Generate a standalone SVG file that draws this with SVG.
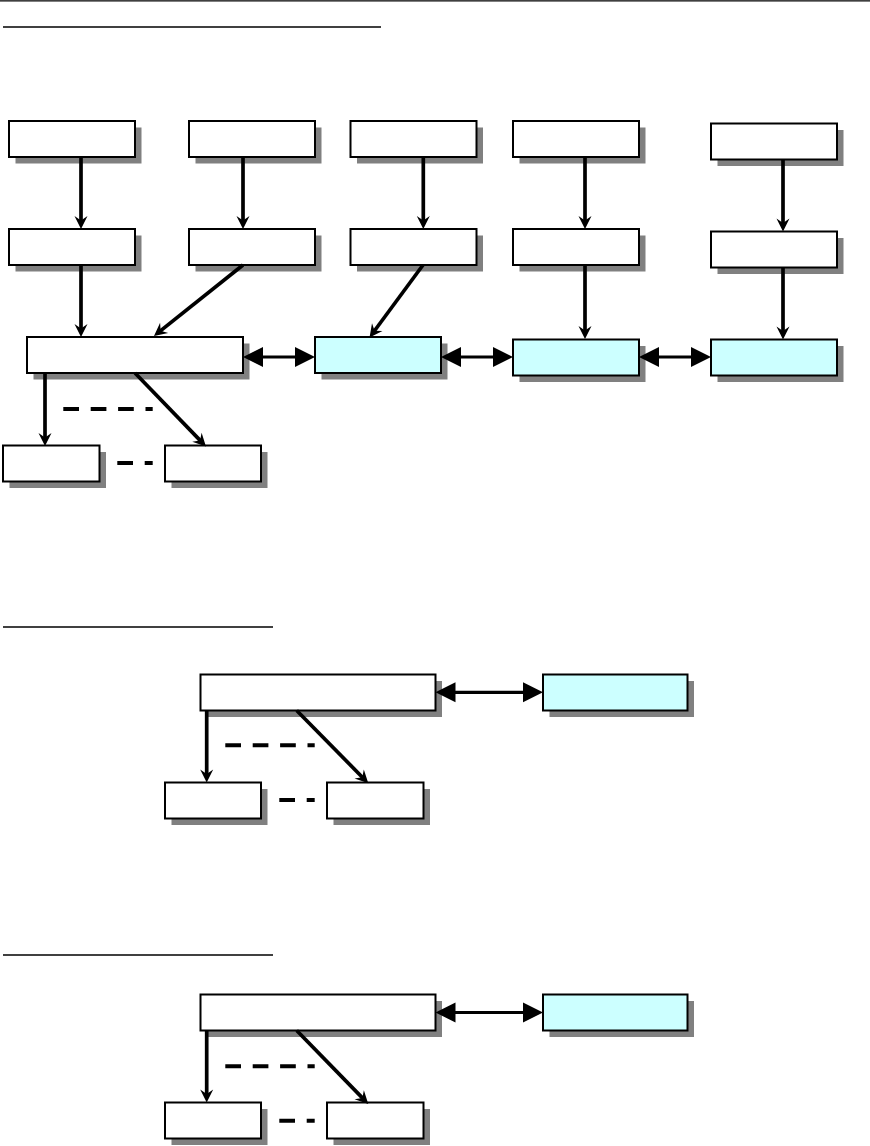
<svg xmlns="http://www.w3.org/2000/svg" width="870" height="1146" viewBox="0 0 870 1146">
<style>
.sh{fill:#808080;stroke:none}
.bx{fill:#fff;stroke:#000;stroke-width:2}
.cy{fill:#ccffff;stroke:#000;stroke-width:2}
.ar{fill:none;stroke:#000;stroke-width:3.7;marker-end:url(#stealth)}
.bi{fill:none;stroke:#000;stroke-width:3.2;marker-start:url(#tri);marker-end:url(#tri)}
.ds{fill:none;stroke:#000;stroke-width:4;stroke-dasharray:15.7 11.7}
.rule{stroke:#000;stroke-width:1.3}
</style>
<defs>
<marker id="stealth" markerUnits="userSpaceOnUse" markerWidth="14" markerHeight="14" refX="8" refY="0" orient="auto" overflow="visible">
<path d="M13,0 L0,-6.5 L4.5,0 L0,6.5 Z" fill="#000"/>
</marker>
<marker id="tri" markerUnits="userSpaceOnUse" markerWidth="20" markerHeight="20" refX="15" refY="0" orient="auto-start-reverse" overflow="visible">
<path d="M20,0 L0,-10 L0,10 Z" fill="#000"/>
</marker>
</defs>
<rect width="870" height="1146" fill="#fff"/>
<g id="rules">
<line class="rule" x1="0" y1="0.8" x2="870" y2="0.8"/>
<line class="rule" x1="3" y1="27" x2="381" y2="27"/>
<line class="rule" x1="3" y1="627" x2="273" y2="627"/>
<line class="rule" x1="3" y1="955" x2="273" y2="955"/>
</g>
<!-- Section 1 -->
<g id="n1a"><rect class="sh" x="15.5" y="127.5" width="126" height="36"/><rect class="bx" x="9" y="121" width="126" height="36"/></g>
<g id="n1b"><rect class="sh" x="195.5" y="127.5" width="126" height="36"/><rect class="bx" x="189" y="121" width="126" height="36"/></g>
<g id="n1c"><rect class="sh" x="357" y="127.5" width="126" height="36"/><rect class="bx" x="350.5" y="121" width="126" height="36"/></g>
<g id="n1d"><rect class="sh" x="519.5" y="127.5" width="126" height="36"/><rect class="bx" x="513" y="121" width="126" height="36"/></g>
<g id="n1e"><rect class="sh" x="717.5" y="130" width="126" height="36"/><rect class="bx" x="711" y="123.5" width="126" height="36"/></g>
<g id="n2a"><rect class="sh" x="15.5" y="235.5" width="126" height="36"/><rect class="bx" x="9" y="229" width="126" height="36"/></g>
<g id="n2b"><rect class="sh" x="195.5" y="235.5" width="126" height="36"/><rect class="bx" x="189" y="229" width="126" height="36"/></g>
<g id="n2c"><rect class="sh" x="357" y="235.5" width="126" height="36"/><rect class="bx" x="350.5" y="229" width="126" height="36"/></g>
<g id="n2d"><rect class="sh" x="519.5" y="235.5" width="126" height="36"/><rect class="bx" x="513" y="229" width="126" height="36"/></g>
<g id="n2e"><rect class="sh" x="717.5" y="238" width="126" height="36"/><rect class="bx" x="711" y="231.5" width="126" height="36"/></g>
<g id="n3main"><rect class="sh" x="33.5" y="343.5" width="216" height="36"/><rect class="bx" x="27" y="337" width="216" height="36"/></g>
<g id="n3c1"><rect class="sh" x="321.5" y="343.5" width="126" height="36"/><rect class="cy" x="315" y="337" width="126" height="36"/></g>
<g id="n3c2"><rect class="sh" x="519.5" y="346" width="126" height="36"/><rect class="cy" x="513" y="339.5" width="126" height="36"/></g>
<g id="n3c3"><rect class="sh" x="717.5" y="346" width="126" height="36"/><rect class="cy" x="711" y="339.5" width="126" height="36"/></g>
<g id="n4a"><rect class="sh" x="9.5" y="452" width="96.5" height="36"/><rect class="bx" x="3" y="445.5" width="96.5" height="36"/></g>
<g id="n4b"><rect class="sh" x="171.5" y="452" width="96" height="36"/><rect class="bx" x="165" y="445.5" width="96" height="36"/></g>
<!-- Section 2 -->
<g id="s2main"><rect class="sh" x="207" y="681" width="235" height="36"/><rect class="bx" x="200.5" y="674.5" width="235" height="36"/></g>
<g id="s2cyan"><rect class="sh" x="549.5" y="681" width="144.5" height="36"/><rect class="cy" x="543" y="674.5" width="144.5" height="36"/></g>
<g id="s2a"><rect class="sh" x="171.5" y="789" width="96" height="36"/><rect class="bx" x="165" y="782.5" width="96" height="36"/></g>
<g id="s2b"><rect class="sh" x="333.5" y="789" width="96.5" height="36"/><rect class="bx" x="327" y="782.5" width="96.5" height="36"/></g>
<!-- Section 3 -->
<g id="s3main"><rect class="sh" x="207" y="1001" width="235" height="36"/><rect class="bx" x="200.5" y="994.5" width="235" height="36"/></g>
<g id="s3cyan"><rect class="sh" x="549.5" y="1001" width="144.5" height="36"/><rect class="cy" x="543" y="994.5" width="144.5" height="36"/></g>
<g id="s3a"><rect class="sh" x="171.5" y="1109" width="96" height="36"/><rect class="bx" x="165" y="1102.5" width="96" height="36"/></g>
<g id="s3b"><rect class="sh" x="333.5" y="1109" width="96.5" height="36"/><rect class="bx" x="327" y="1102.5" width="96.5" height="36"/></g>
<g id="connectors">
<line class="ar" x1="81" y1="157" x2="81" y2="224"/>
<line class="ar" x1="243" y1="157" x2="243" y2="224"/>
<line class="ar" x1="423.3" y1="157" x2="423.3" y2="224"/>
<line class="ar" x1="585" y1="157" x2="585" y2="224"/>
<line class="ar" x1="783" y1="159.5" x2="783" y2="226.5"/>
<line class="ar" x1="81" y1="265" x2="81" y2="332"/>
<line class="ar" x1="243" y1="265" x2="157.9" y2="332.9"/>
<line class="ar" x1="423" y1="265" x2="372.5" y2="333.5"/>
<line class="ar" x1="585" y1="265" x2="585" y2="334"/>
<line class="ar" x1="783" y1="267.5" x2="783" y2="334.5"/>
<line class="bi" x1="248" y1="357" x2="310" y2="357"/>
<line class="bi" x1="446" y1="357" x2="508" y2="357"/>
<line class="bi" x1="644" y1="357" x2="706" y2="357"/>
<line class="ar" x1="45" y1="373" x2="45" y2="441"/>
<line class="ar" x1="135" y1="373" x2="202.5" y2="442.9"/>
<line class="ds" x1="63.3" y1="409" x2="152.7" y2="409"/>
<line class="ds" x1="117.3" y1="463" x2="152.7" y2="463"/>
<line class="bi" x1="440.5" y1="692.3" x2="538" y2="692.3"/>
<line class="ar" x1="206.7" y1="710.5" x2="206.7" y2="777.5"/>
<line class="ar" x1="296.7" y1="710.5" x2="364.8" y2="779.7"/>
<line class="ds" x1="225.3" y1="745.3" x2="314.7" y2="745.3"/>
<line class="ds" x1="279.3" y1="800" x2="314.7" y2="800"/>
<line class="bi" x1="440.5" y1="1012.5" x2="538" y2="1012.5"/>
<line class="ar" x1="206.7" y1="1030.5" x2="206.7" y2="1097.5"/>
<line class="ar" x1="296.7" y1="1030.5" x2="364.8" y2="1100.4"/>
<line class="ds" x1="225.3" y1="1066.3" x2="314.7" y2="1066.3"/>
<line class="ds" x1="279.3" y1="1120.7" x2="314.7" y2="1120.7"/>
</g>
</svg>
